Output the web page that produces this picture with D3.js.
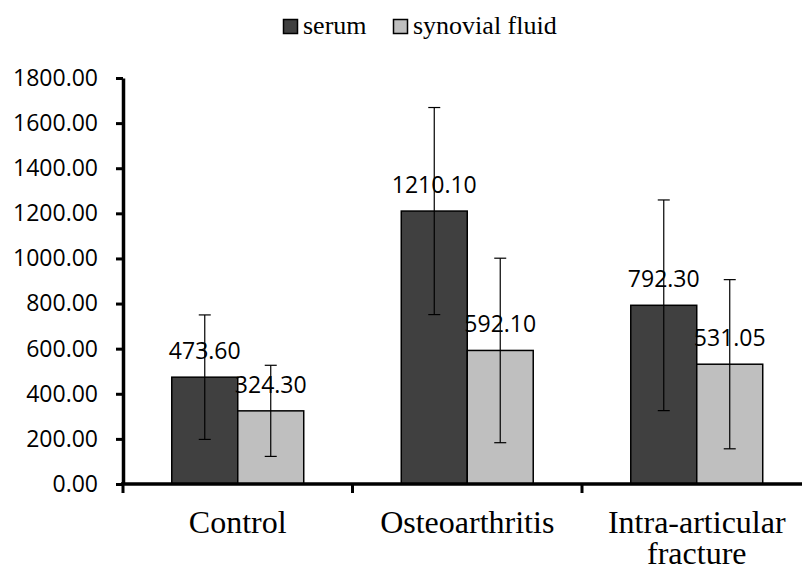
<!DOCTYPE html>
<html>
<head>
    <meta charset="UTF-8">
    <script src="https://d3js.org/d3.v7.min.js"></script>
</head>
<body style="margin:0">
<script>
    // Data
    const categories = ["Control", "Osteoarthritis", "Intra-articular|fracture"];
    const seriesNames = ["serum", "synovial fluid"];
    const serum = [473.60, 1210.10, 792.30];
    const synovial = [324.30, 592.10, 531.05];
    const serumErr = [276, 459, 467];
    const synovialErr = [202, 409, 375];
    const yTicks = [0, 200, 400, 600, 800, 1000, 1200, 1400, 1600, 1800];

    const colors = ["#404040", "#bfbfbf"];
    const W = 802, H = 570;

    const svg = d3.select("body").append("svg")
        .attr("width", W)
        .attr("height", H);

    // Scales
    const x0 = d3.scaleBand()
        .domain(categories)
        .range([123, 811.5])
        .paddingInner(0.425)
        .paddingOuter(0.2125);

    const x1 = d3.scaleBand()
        .domain(seriesNames)
        .range([0, x0.bandwidth()]);

    const y = d3.scaleLinear()
        .domain([0, 1800])
        .range([484, 78]);

    // rows per category
    const rows = categories.map((c, i) => ({
        cat: c,
        values: [
            {name: seriesNames[0], v: serum[i], err: serumErr[i], color: colors[0]},
            {name: seriesNames[1], v: synovial[i], err: synovialErr[i], color: colors[1]}
        ]
    }));

    const groups = svg.selectAll(".group")
        .data(rows)
        .enter()
        .append("g")
        .attr("transform", d => `translate(${x0(d.cat)},0)`);

    // Bars
    groups.selectAll("rect")
        .data(d => d.values)
        .enter()
        .append("rect")
        .attr("x", d => x1(d.name))
        .attr("y", d => y(d.v))
        .attr("width", x1.bandwidth())
        .attr("height", d => y(0) - y(d.v))
        .attr("fill", d => d.color)
        .attr("stroke", "#000")
        .attr("stroke-width", 1.5);

    // Error bars
    const eb = groups.selectAll(".err")
        .data(d => d.values)
        .enter()
        .append("g")
        .attr("stroke", "#000")
        .attr("stroke-width", 1.2);

    const cx = d => x1(d.name) + x1.bandwidth() / 2;
    eb.append("line")
        .attr("x1", cx).attr("x2", cx)
        .attr("y1", d => y(d.v + d.err))
        .attr("y2", d => y(d.v - d.err));
    eb.append("line")
        .attr("x1", d => cx(d) - 6).attr("x2", d => cx(d) + 6)
        .attr("y1", d => y(d.v + d.err)).attr("y2", d => y(d.v + d.err));
    eb.append("line")
        .attr("x1", d => cx(d) - 6).attr("x2", d => cx(d) + 6)
        .attr("y1", d => y(d.v - d.err)).attr("y2", d => y(d.v - d.err));

    // Value labels
    groups.selectAll(".bar-label")
        .data(d => d.values)
        .enter()
        .append("text")
        .attr("font-family", "Open Sans")
        .attr("font-size", 23)
        .attr("x", cx)
        .attr("y", d => y(d.v) - 18)
        .attr("text-anchor", "middle")
        .text(d => d3.format(".2f")(d.v));

    // Y axis
    const yAxis = svg.append("g")
        .attr("transform", "translate(123,0)")
        .call(d3.axisLeft(y).tickValues(yTicks).tickSize(7).tickSizeOuter(0)
            .tickPadding(18).tickFormat(d3.format(".2f")));
    yAxis.attr("font-family", "Open Sans").attr("font-size", 23);
    yAxis.select(".domain").attr("stroke-width", 3.5);
    yAxis.selectAll(".tick line").attr("stroke-width", 3);
    yAxis.selectAll(".tick text").attr("fill", "#000");

    // X axis (ticks on category boundaries)
    svg.append("line")
        .attr("x1", 121).attr("x2", W)
        .attr("y1", y(0)).attr("y2", y(0))
        .attr("stroke", "#000").attr("stroke-width", 3.5);

    const bounds = d3.range(categories.length + 1).map(i => x0.range()[0] + i * x0.step());
    svg.selectAll(".xtick")
        .data(bounds)
        .enter()
        .append("line")
        .attr("x1", d => d).attr("x2", d => d)
        .attr("y1", y(0)).attr("y2", y(0) + 9)
        .attr("stroke", "#000").attr("stroke-width", 3);

    // Category labels, one text per line
    const catLines = [];
    categories.forEach(c => c.split("|").forEach((t, i) => catLines.push({cat: c, t: t, i: i})));
    svg.selectAll(".cat-label")
        .data(catLines)
        .enter()
        .append("text")
        .attr("font-family", "Liberation Serif")
        .attr("font-size", 32)
        .attr("text-anchor", "middle")
        .attr("x", d => x0(d.cat) + x0.bandwidth() / 2)
        .attr("y", d => 533 + d.i * 31)
        .text(d => d.t);

    // Legend
    const legendX = [283, 393];
    svg.selectAll(".legend-box")
        .data(seriesNames)
        .enter()
        .append("rect")
        .attr("x", (d, i) => legendX[i] + 0.5).attr("y", 19.5)
        .attr("width", 14).attr("height", 14)
        .attr("fill", (d, i) => colors[i])
        .attr("stroke", "#000").attr("stroke-width", 1.5);
    svg.selectAll(".legend-text")
        .data(seriesNames)
        .enter()
        .append("text")
        .attr("x", (d, i) => legendX[i] + 20).attr("y", 34)
        .attr("font-family", "Liberation Serif")
        .attr("font-size", 26)
        .text(d => d);
</script>
</body>
</html>
